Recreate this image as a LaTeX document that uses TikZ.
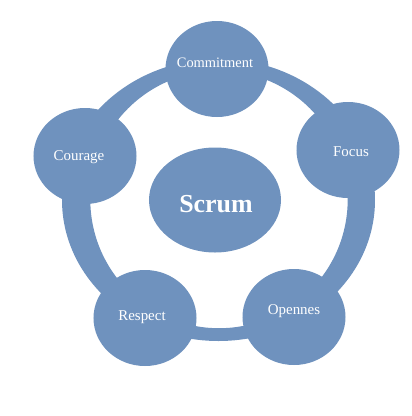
\documentclass[tikz,border=0pt]{standalone}
\usepackage{fontspec}
\setmainfont{Liberation Serif}
\usetikzlibrary{shapes.geometric}
\definecolor{scrumblue}{RGB}{111,146,190}

\begin{document}
\begin{tikzpicture}[
    x=1bp, y=-1bp,
    value/.style={ellipse, fill=scrumblue, minimum width=103bp, minimum height=96bp, inner sep=0pt},
    core/.style={ellipse, fill=scrumblue, minimum width=132bp, minimum height=105bp, inner sep=0pt},
    valuetext/.style={anchor=base, text=white, inner sep=0pt, font=\fontsize{15}{18}\selectfont},
    coretext/.style={anchor=base, text=white, inner sep=0pt, font=\fontsize{26}{30}\selectfont\bfseries}
]

\useasboundingbox (0,0) rectangle (412,416);

% Ring behind the values
\fill[scrumblue, even odd rule] (218.5,200) ellipse [x radius=156.5bp, y radius=141bp]
    (219,199.5) circle [radius=128.7bp];

% Scrum in the middle
\node[core] (scrum) at (215,200) {};
\node[coretext] (scrumtext) at (216,212) {Scrum};

% Values
\node[value] (commitment) at (217,69) {};
\node[value] (focus) at (348,150) {};
\node[value] (opennes) at (294,317) {};
\node[value] (respect) at (145,318) {};
\node[value] (courage) at (85,156) {};

% Value texts
\node[valuetext, font=\fontsize{14.5}{18}\selectfont] (commitmenttext) at (215,67) {Commitment};
\node[valuetext] (focustext) at (351,156) {Focus};
\node[valuetext] (opennestext) at (294,314) {Opennes};
\node[valuetext] (respecttext) at (142,320) {Respect};
\node[valuetext] (couragetext) at (79,160) {Courage};

\end{tikzpicture}
\end{document}
